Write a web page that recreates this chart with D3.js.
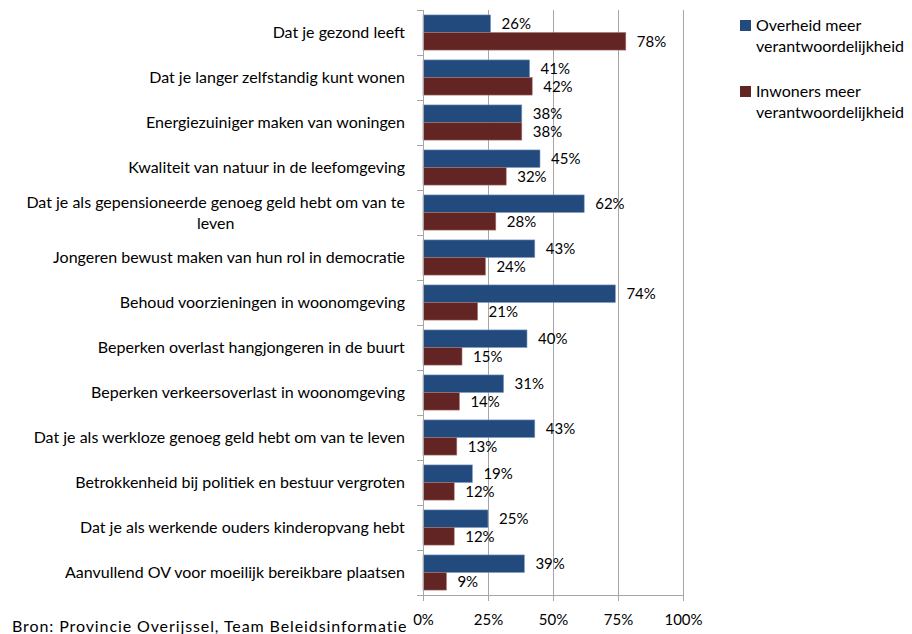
<!DOCTYPE html>
<html>
<head>
<meta charset="utf-8">
<script src="https://cdn.jsdelivr.net/npm/d3@7"></script>
<style>
  body { margin: 0; background: #fff; }
  svg text { font-family: Lato, "Open Sans", sans-serif; fill: #000; }
</style>
</head>
<body>
<div id="chart"></div>
<script>
// chart data
const categories = [
  "Dat je gezond leeft",
  "Dat je langer zelfstandig kunt wonen",
  "Energiezuiniger maken van woningen",
  "Kwaliteit van natuur in de leefomgeving",
  "Dat je als gepensioneerde genoeg geld hebt om van te|leven",
  "Jongeren bewust maken van hun rol in democratie",
  "Behoud voorzieningen in woonomgeving",
  "Beperken overlast hangjongeren in de buurt",
  "Beperken verkeersoverlast in woonomgeving",
  "Dat je als werkloze genoeg geld hebt om van te leven",
  "Betrokkenheid bij politiek en bestuur vergroten",
  "Dat je als werkende ouders kinderopvang hebt",
  "Aanvullend OV voor moeilijk bereikbare plaatsen"
];
const seriesNames = ["Overheid meer|verantwoordelijkheid", "Inwoners meer|verantwoordelijkheid"];
const overheid = [26, 41, 38, 45, 62, 43, 74, 40, 31, 43, 19, 25, 39];
const inwoners = [78, 42, 38, 32, 28, 24, 21, 15, 14, 13, 12, 12, 9];
const xTicks = [0, 25, 50, 75, 100];
const colors = ["#234a7d", "#632523"];
const source = "Bron: Provincie Overijssel, Team Beleidsinformatie";

const width = 912, height = 634;
const margin = {top: 10, left: 423, right: 229, bottom: 39};

let svg = d3.select("#chart")
    .append("svg")
    .attr("width", width)
    .attr("height", height);

let x = d3.scaleLinear()
    .domain([0, 100])
    .range([margin.left, width - margin.right]);

let y = d3.scaleBand()
    .domain(d3.range(categories.length))
    .range([margin.top, height - margin.bottom]);

// two bars inside each category band
let sub = d3.scaleBand()
    .domain([0, 1])
    .range([0, y.bandwidth()])
    .paddingOuter(0.28);

// vertical gridlines
svg.append("g")
    .selectAll("line")
    .data(xTicks.slice(1))
    .join("line")
    .attr("x1", d => x(d) + 0.5)
    .attr("x2", d => x(d) + 0.5)
    .attr("y1", margin.top)
    .attr("y2", height - margin.bottom)
    .attr("stroke", "#a6a6a6");

// bars + value labels
let series = [overheid, inwoners];
series.forEach(function(values, s) {
  svg.append("g")
    .selectAll("rect")
    .data(values)
    .join("rect")
    .attr("x", x(0))
    .attr("y", (d, i) => y(i) + sub(s))
    .attr("width", d => x(d) - x(0))
    .attr("height", sub.bandwidth())
    .attr("fill", colors[s])
    .attr("stroke", s === 0 ? "#7f9cc4" : "#a47674")
    .attr("stroke-width", 0.6);

  svg.append("g")
    .selectAll("text")
    .data(values)
    .join("text")
    .attr("x", d => x(d) + 11)
    .attr("y", (d, i) => y(i) + sub(s) + sub.bandwidth() / 2)
    .attr("dy", "0.38em")
    .style("font-size", "15px")
    .text(d => d + "%");
});

// left axis: line + ticks between categories
let yAxis = svg.append("g");
yAxis.append("line")
    .attr("x1", x(0) + 0.5).attr("x2", x(0) + 0.5)
    .attr("y1", margin.top).attr("y2", height - margin.bottom)
    .attr("stroke", "#a6a6a6");
yAxis.selectAll("line.tick")
    .data(d3.range(categories.length + 1))
    .join("line")
    .attr("class", "tick")
    .attr("x1", x(0) - 6).attr("x2", x(0))
    .attr("y1", i => margin.top + i * y.step() + 0.5)
    .attr("y2", i => margin.top + i * y.step() + 0.5)
    .attr("stroke", "#a6a6a6");

// category labels (right-aligned block, lines centred inside it)
let catLabels = svg.append("g")
    .selectAll("text")
    .data(categories)
    .join("text")
    .attr("text-anchor", "middle")
    .style("font-size", "16px");
catLabels.each(function(d, i) {
  let lines = d.split("|");
  let t = d3.select(this);
  let cy = y(i) + y.bandwidth() / 2;
  lines.forEach(function(line, k) {
    t.append("tspan")
      .attr("x", 0)
      .attr("y", cy + (k - (lines.length - 1) / 2) * 21)
      .attr("dy", "0.36em")
      .text(line);
  });
  let w = this.getBBox().width;
  t.selectAll("tspan").attr("x", 405 - w / 2);
});

// bottom axis
let xAxis = svg.append("g")
    .attr("transform", `translate(0, ${height - margin.bottom})`)
    .call(d3.axisBottom(x).tickValues(xTicks).tickSize(6).tickPadding(13).tickFormat(d => d + "%"));
xAxis.selectAll("line, path").attr("stroke", "#a6a6a6");
xAxis.select("path").attr("d", `M${x(0)},0.5H${x(100)}`);
xAxis.selectAll("text").style("font-size", "15px").attr("fill", "#000");
xAxis.selectAll(".tick").attr("transform", d => `translate(${x(d) + 0.5},0)`);

// legend
let legend = svg.append("g");
seriesNames.forEach(function(name, s) {
  let ly = 20 + s * 66;
  legend.append("rect")
    .attr("x", 740).attr("y", ly)
    .attr("width", 11).attr("height", 11)
    .attr("fill", colors[s]);
  let t = legend.append("text").style("font-size", "16px");
  name.split("|").forEach(function(line, k) {
    t.append("tspan")
      .attr("x", 756)
      .attr("y", ly + 11 + k * 21)
      .text(line);
  });
});

// source
svg.append("text")
    .attr("x", 12)
    .attr("y", 632)
    .style("font-size", "16px")
    .style("letter-spacing", "0.9px")
    .text(source);
</script>
</body>
</html>
